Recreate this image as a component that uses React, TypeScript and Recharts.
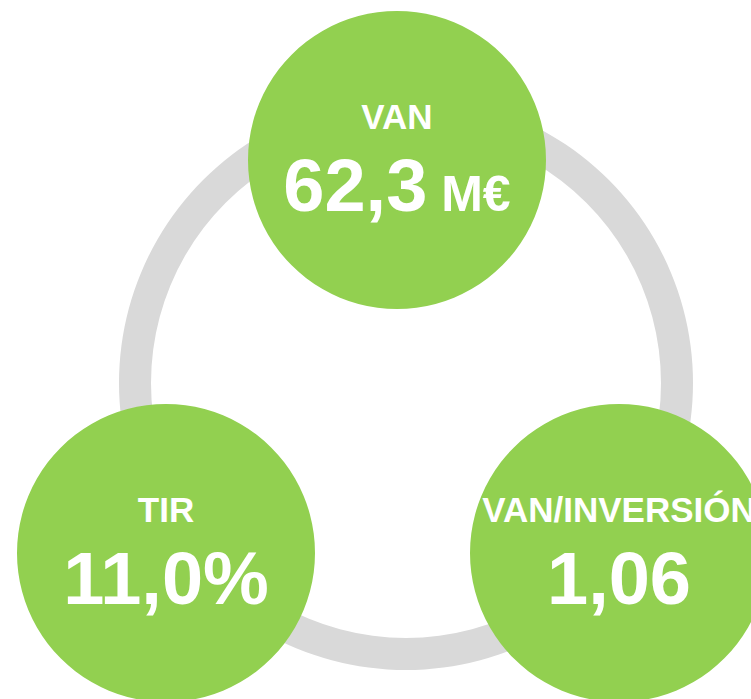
import React from 'react';
import { PieChart, Pie, Cell } from 'recharts';

// KPI data
const kpiNames = ['VAN', 'TIR', 'VAN/INVERSIÓN'];
const kpiValues = [62.3, 11.0, 1.06];
const kpiDecimals = [1, 1, 2];
const kpiSuffix = ['', '%', ''];
const kpiUnits = [' M€', '', ''];

// layout of the three bubbles (pixels)
const bubblePos = [
  { cx: 397, cy: 160 },
  { cx: 166, cy: 553 },
  { cx: 619, cy: 553 },
];

const GREEN = '#92D050';
const GREY = '#D9D9D9';
const FONT = '"Liberation Sans", Arial, sans-serif';

const fmt = (v: number, d: number) => v.toFixed(d).replace('.', ',');

const renderBubbleLabel = (i: number) => (props: any) => {
  const { cx, cy } = props;
  return (
    <g>
      <text
        x={cx}
        y={cy - 31}
        textAnchor="middle"
        fill="#fff"
        fontFamily={FONT}
        fontWeight="bold"
        fontSize={35}
      >
        {kpiNames[i]}
      </text>
      <text
        x={cx}
        y={cy + 51}
        textAnchor="middle"
        fill="#fff"
        fontFamily={FONT}
        fontWeight="bold"
        fontSize={74}
      >
        {fmt(kpiValues[i], kpiDecimals[i]) + kpiSuffix[i]}
        {kpiUnits[i] && <tspan fontSize={50}>{kpiUnits[i]}</tspan>}
      </text>
    </g>
  );
};

const App: React.FC = () => {
  return (
    <div style={{ width: 751, height: 699, overflow: 'hidden', background: '#fff' }}>
      <style>{`body{margin:0}`}</style>
      <PieChart width={751} height={699} margin={{ top: 0, right: 0, bottom: 0, left: 0 }}>
        <Pie
          data={[{ name: 'ring', value: 1 }]}
          dataKey="value"
          cx={406}
          cy={383}
          innerRadius={255}
          outerRadius={287}
          startAngle={90}
          endAngle={-270}
          stroke="none"
          isAnimationActive={false}
        >
          <Cell fill={GREY} />
        </Pie>
        {kpiNames.map((name, i) => (
          <Pie
            key={name}
            data={[{ name, value: kpiValues[i] }]}
            dataKey="value"
            cx={bubblePos[i].cx}
            cy={bubblePos[i].cy}
            innerRadius={0}
            outerRadius={149}
            startAngle={90}
            endAngle={-270}
            stroke="none"
            labelLine={false}
            label={renderBubbleLabel(i)}
            isAnimationActive={false}
          >
            <Cell fill={GREEN} />
          </Pie>
        ))}
      </PieChart>
    </div>
  );
};

export default App;
